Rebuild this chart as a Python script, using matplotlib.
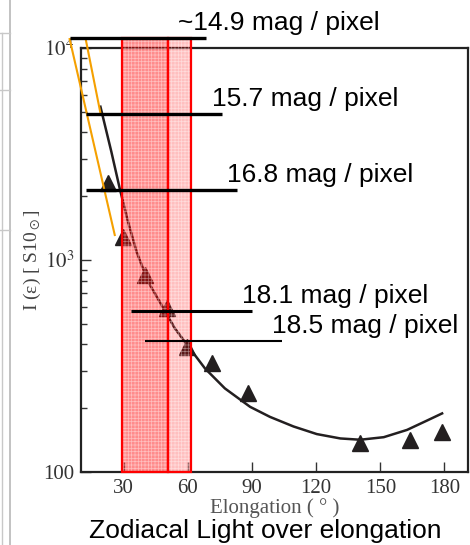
import matplotlib
matplotlib.use("Agg")
import matplotlib.pyplot as plt
from matplotlib.lines import Line2D
from matplotlib.patches import Rectangle

# Measured zodiacal light brightness (triangles)
elong_pts = [22.6, 29.7, 39.8, 50.0, 59.4, 71.1, 88.3, 140.6, 164.0, 178.9]
bright_pts = [2300, 1288, 849, 592, 390, 326, 235, 137, 142, 155]

# Fitted curve
elong_fit = [19.1, 24.2, 28.1, 32.0, 36.0, 41.4, 47.7, 53.9, 60.9, 68.0, 77.3,
             89.1, 98.4, 109.4, 120.3, 131.3, 140.6, 151.6, 162.5, 171.9, 178.9]
bright_fit = [5285, 3243, 2179, 1516, 1094, 790, 613, 476, 383, 308, 248,
              203, 182, 164, 151, 144, 142, 146, 158, 175, 189]

# Surface brightness levels: label, level, start and end elongation
mag_labels = ["~14.9 mag / pixel", "15.7 mag / pixel", "16.8 mag / pixel",
              "18.1 mag / pixel", "18.5 mag / pixel"]
mag_levels = [11150, 4890, 2138, 574, 415]
mag_start = [4.7, 12.2, 12.2, 33.3, 39.8]
mag_end = [68.4, 75.9, 83.0, 90.0, 104.1]
mag_width = [2.4, 2.4, 2.4, 2.2, 1.5]

# Orange guide lines (elongation pairs, brightness pairs)
guide_x = [[4.7, 25.8], [12.2, 19.1]]
guide_y = [[11020, 1312], [11020, 4930]]

# Highlighted elongation bands
band_edges = [29.0, 50.6, 61.6]
band_alpha = [0.45, 0.25]
band_top = 11150

plt.rcParams["mathtext.fontset"] = "stix"
plt.rcParams["hatch.linewidth"] = 0.5

fig = plt.figure(figsize=(4.7, 5.45), dpi=100)
ax = fig.add_axes([0.1723, 0.1339, 0.9957 - 0.1723, 0.9119 - 0.1339])

ax.set_yscale("log")
ax.set_xlim(10, 191)
ax.set_ylim(100, 10000)

ax.plot(elong_fit, bright_fit, color="#231f20", lw=1.8, zorder=3)
ax.plot(elong_pts, bright_pts, "^", color="#231f20", ms=11, zorder=4)

# bands: translucent hatched red over the data, then red outline
for i in range(2):
    x0, x1 = band_edges[i], band_edges[i + 1]
    ax.add_patch(Rectangle((x0, 100), x1 - x0, band_top - 100,
                           facecolor=(1, 0, 0, band_alpha[i]), edgecolor=(1, 1, 1, 0.45),
                           hatch="+++++", lw=0, clip_on=False, zorder=5))
    ax.add_patch(Rectangle((x0, 100), x1 - x0, band_top - 100, facecolor="none",
                           edgecolor="#ff0000", lw=1.6, clip_on=False, zorder=5))

for gx, gy in zip(guide_x, guide_y):
    ax.plot(gx, gy, color="#f5a000", lw=1.5, clip_on=False, zorder=6)

for i, lab in enumerate(mag_labels):
    ax.plot([mag_start[i], mag_end[i]], [mag_levels[i]] * 2, color="black",
            lw=mag_width[i], clip_on=False, zorder=7, solid_capstyle="butt")
    dx = -28 if lab.startswith("~") else -10
    ax.annotate(lab, xy=(mag_end[i], mag_levels[i]), xytext=(dx, 8),
                textcoords="offset pixels", ha="left", va="baseline",
                family="Liberation Sans", fontsize=19, color="black",
                annotation_clip=False, zorder=8)

ax.set_xticks([30, 60, 90, 120, 150, 180])
ax.set_yticks([100, 1000, 10000])
ax.set_yticklabels(["100", "$10^3$", "$10^4$"])
ax.tick_params(which="major", direction="in", length=7, width=1, colors="#333333",
               labelsize=15, pad=5, right=False, top=False)
ax.tick_params(which="minor", direction="in", length=4, width=1, colors="#333333",
               right=False, top=False)
for t in ax.get_xticklabels() + ax.get_yticklabels():
    t.set_family("Liberation Serif")
for s in ax.spines.values():
    s.set_linewidth(1.6)
    s.set_color("#222222")

ax.set_xlabel("Elongation ( ° )", family="Liberation Serif", fontsize=15,
              color="#555555", labelpad=0)
ax.set_ylabel(r"I (ε) [ S10$_\odot$]", family="Liberation Serif", fontsize=14,
              color="#444444", labelpad=0)

fig.text(0.564, 0.026, "Zodiacal Light over elongation", ha="center", va="center",
         family="Liberation Sans", fontsize=19, color="black")

# screenshot frame remnants at the left edge
fig.add_artist(Line2D([10 / 470, 10 / 470], [0, 1], color="#b8b8b8", lw=1.2))
fig.add_artist(Line2D([2 / 470, 2 / 470], [0, 1 - 33 / 545], color="#c8c8c8", lw=1))
for yy in [33, 90, 230]:
    fig.add_artist(Line2D([0, 10 / 470], [1 - yy / 545] * 2, color="#c8c8c8", lw=1))

fig.savefig("out.png", dpi=100)
